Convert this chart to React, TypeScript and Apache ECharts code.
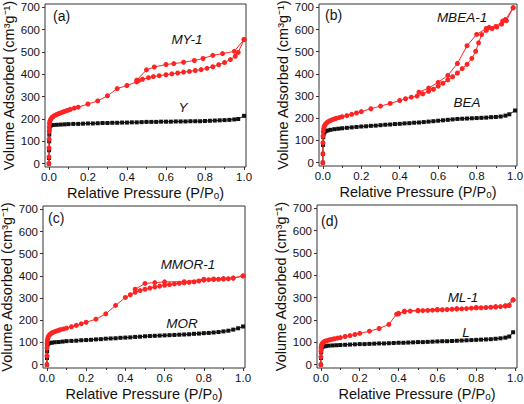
import React, { useEffect, useRef } from "react";
import * as echarts from "echarts";

type Pt = [number, number];

// ---------- Data ----------
const xTicks = [0, 0.2, 0.4, 0.6, 0.8, 1.0];
const xMinorTicks = [0.1, 0.3, 0.5, 0.7, 0.9];
const yTicks = [0, 100, 200, 300, 400, 500, 600, 700];

// (a) Y and MY-1
const Y_ads: Pt[] = [
  [0, 0], [0.0005, 25], [0.001, 60], [0.0015, 100], [0.002, 130], [0.003, 155], [0.005, 168], [0.01, 171],
  [0.02, 173], [0.04, 174], [0.06, 175], [0.08, 176], [0.1, 177], [0.125, 178], [0.15, 178], [0.175, 179],
  [0.2, 180], [0.225, 180], [0.25, 181], [0.275, 182], [0.3, 182], [0.325, 183], [0.35, 183], [0.375, 184],
  [0.4, 184], [0.425, 185], [0.45, 185], [0.475, 186], [0.5, 187], [0.525, 187], [0.55, 187], [0.575, 188],
  [0.6, 188], [0.625, 188], [0.65, 189], [0.675, 189], [0.7, 189], [0.725, 190], [0.75, 190], [0.775, 190],
  [0.8, 191], [0.825, 192], [0.85, 193], [0.875, 194], [0.9, 195], [0.925, 196], [0.95, 198], [0.97, 200], [1.0, 214],
];
const MY1_ads: Pt[] = [
  [0, 0], [0.0003, 30], [0.0006, 70], [0.001, 110], [0.0015, 145], [0.002, 165], [0.003, 180], [0.005, 190],
  [0.008, 197], [0.012, 203], [0.017, 208], [0.023, 212], [0.03, 216], [0.037, 219], [0.045, 222], [0.053, 225],
  [0.062, 228], [0.071, 231], [0.08, 234], [0.09, 237], [0.1, 240], [0.11, 243], [0.13, 249], [0.15, 253],
  [0.2, 267], [0.25, 281], [0.3, 304], [0.35, 336], [0.4, 350], [0.45, 366], [0.46, 372], [0.48, 378],
  [0.51, 385], [0.535, 390], [0.565, 394], [0.6, 398], [0.63, 402], [0.66, 406], [0.69, 410], [0.72, 413],
  [0.75, 417], [0.78, 421], [0.81, 427], [0.84, 434], [0.87, 443], [0.9, 453], [0.93, 466], [0.955, 481],
  [0.97, 498], [1.0, 556],
];
const MY1_des: Pt[] = [
  [1.0, 556], [0.95, 503], [0.89, 493], [0.84, 485], [0.79, 471], [0.745, 462], [0.69, 454], [0.64, 448],
  [0.6, 444], [0.54, 433], [0.5, 420], [0.45, 374],
];

// (b) BEA and MBEA-1
const BEA_ads: Pt[] = [
  [0, 0], [0.0005, 40], [0.001, 80], [0.002, 115], [0.004, 130], [0.008, 137], [0.015, 142], [0.025, 145],
  [0.04, 148], [0.06, 151], [0.08, 153], [0.1, 155], [0.125, 157], [0.15, 159], [0.175, 161], [0.2, 163],
  [0.225, 164], [0.25, 166], [0.275, 167], [0.3, 169], [0.325, 171], [0.35, 172], [0.375, 174], [0.4, 175],
  [0.425, 177], [0.45, 178], [0.475, 180], [0.5, 181], [0.525, 183], [0.55, 185], [0.575, 187], [0.6, 189],
  [0.625, 191], [0.65, 193], [0.675, 195], [0.7, 197], [0.725, 198], [0.75, 199], [0.775, 200], [0.8, 201],
  [0.825, 202], [0.85, 203], [0.875, 205], [0.9, 206], [0.925, 208], [0.95, 212], [0.97, 218], [1.0, 235],
];
const MBEA1_ads: Pt[] = [
  [0, 0], [0.0003, 40], [0.0006, 90], [0.001, 120], [0.002, 140], [0.004, 153], [0.007, 163], [0.011, 170],
  [0.016, 176], [0.022, 181], [0.03, 186], [0.04, 190], [0.05, 194], [0.06, 197], [0.07, 200], [0.085, 203],
  [0.1, 207], [0.125, 212], [0.15, 218], [0.175, 224], [0.2, 230], [0.25, 243], [0.3, 255], [0.35, 267],
  [0.4, 280], [0.43, 288], [0.46, 295], [0.49, 300], [0.52, 310], [0.55, 322], [0.575, 331], [0.6, 345],
  [0.625, 358], [0.65, 373], [0.675, 387], [0.7, 404], [0.725, 424], [0.75, 443], [0.775, 470], [0.795, 502],
  [0.81, 540], [0.826, 577], [0.85, 596], [0.88, 604], [0.905, 611], [0.93, 624], [0.955, 640], [0.99, 698],
];
const MBEA1_des: Pt[] = [
  [0.99, 698], [0.95, 645], [0.935, 638], [0.9, 614], [0.865, 610], [0.85, 605], [0.8, 578], [0.75, 527],
  [0.7, 447], [0.65, 393], [0.6, 362], [0.55, 336], [0.5, 318],
];

// (c) MOR and MMOR-1
const MOR_ads: Pt[] = [
  [0, 0], [0.0005, 30], [0.001, 60], [0.002, 85], [0.004, 93], [0.008, 96], [0.015, 98], [0.025, 99],
  [0.04, 101], [0.06, 102], [0.08, 104], [0.1, 106], [0.125, 107], [0.15, 108], [0.175, 110], [0.2, 111],
  [0.225, 112], [0.25, 114], [0.275, 115], [0.3, 117], [0.325, 118], [0.35, 119], [0.375, 121], [0.4, 122],
  [0.425, 123], [0.45, 125], [0.475, 126], [0.5, 128], [0.525, 129], [0.55, 130], [0.575, 131], [0.6, 132],
  [0.625, 133], [0.65, 134], [0.675, 135], [0.7, 136], [0.725, 137], [0.75, 139], [0.775, 140], [0.8, 142],
  [0.825, 143], [0.85, 145], [0.875, 147], [0.9, 150], [0.925, 153], [0.95, 158], [0.975, 164], [1.0, 172],
];
const MMOR1_ads: Pt[] = [
  [0, 0], [0.0003, 40], [0.0006, 75], [0.001, 95], [0.002, 108], [0.004, 118], [0.007, 126], [0.011, 132],
  [0.016, 137], [0.022, 141], [0.03, 145], [0.04, 149], [0.05, 152], [0.06, 155], [0.07, 158], [0.085, 161],
  [0.1, 165], [0.125, 171], [0.15, 177], [0.175, 184], [0.2, 191], [0.25, 205], [0.3, 229], [0.35, 267],
  [0.4, 303], [0.425, 315], [0.45, 326], [0.475, 334], [0.5, 340], [0.525, 345], [0.55, 350], [0.575, 354],
  [0.6, 358], [0.625, 361], [0.65, 364], [0.675, 367], [0.7, 369], [0.725, 371], [0.75, 373], [0.775, 377],
  [0.8, 381], [0.825, 383], [0.85, 384], [0.875, 385], [0.9, 386], [0.925, 387], [0.95, 390], [1.0, 400],
];
const MMOR1_des: Pt[] = [
  [1.0, 400], [0.95, 390], [0.9, 388], [0.85, 386], [0.8, 385], [0.7, 374], [0.6, 373], [0.55, 370],
  [0.5, 366], [0.45, 340],
];

// (d) L and ML-1
const L_ads: Pt[] = [
  [0, 0], [0.0005, 30], [0.001, 55], [0.002, 70], [0.004, 77], [0.008, 80], [0.015, 82], [0.025, 83],
  [0.04, 85], [0.06, 86], [0.08, 87], [0.1, 88], [0.125, 89], [0.15, 90], [0.175, 91], [0.2, 92],
  [0.225, 92], [0.25, 93], [0.275, 94], [0.3, 95], [0.325, 95], [0.35, 96], [0.375, 97], [0.4, 98],
  [0.425, 98], [0.45, 99], [0.475, 100], [0.5, 101], [0.525, 101], [0.55, 102], [0.575, 103], [0.6, 104],
  [0.625, 105], [0.65, 105], [0.675, 106], [0.7, 107], [0.725, 108], [0.75, 109], [0.775, 110], [0.8, 111],
  [0.825, 112], [0.85, 113], [0.875, 114], [0.9, 116], [0.925, 118], [0.95, 121], [0.97, 126], [0.99, 145],
];
const ML1_ads: Pt[] = [
  [0, 0], [0.0003, 35], [0.0006, 60], [0.001, 75], [0.002, 84], [0.004, 90], [0.007, 95], [0.011, 99],
  [0.016, 102], [0.022, 105], [0.03, 107], [0.04, 110], [0.05, 112], [0.06, 114], [0.07, 116], [0.085, 119],
  [0.1, 121], [0.125, 126], [0.15, 130], [0.175, 135], [0.2, 140], [0.25, 150], [0.3, 162], [0.35, 180],
  [0.39, 226], [0.4, 228], [0.43, 237], [0.46, 240], [0.5, 241], [0.525, 242], [0.55, 243], [0.575, 244],
  [0.6, 245], [0.625, 246], [0.65, 247], [0.675, 248], [0.7, 249], [0.725, 250], [0.75, 251], [0.775, 253],
  [0.8, 254], [0.825, 255], [0.85, 256], [0.875, 257], [0.9, 258], [0.925, 260], [0.95, 262], [0.97, 265],
  [0.99, 290],
];
const ML1_des: Pt[] = [
  [0.99, 290], [0.95, 264], [0.9, 260], [0.8, 256], [0.7, 251], [0.6, 247], [0.5, 243], [0.43, 240], [0.4, 230],
];

const panelLetters = ["(a)", "(b)", "(c)", "(d)"];
const redNames = ["MY-1", "MBEA-1", "MMOR-1", "ML-1"];
const blackNames = ["Y", "BEA", "MOR", "L"];
const blackData = [Y_ads, BEA_ads, MOR_ads, L_ads];
const redAdsData = [MY1_ads, MBEA1_ads, MMOR1_ads, ML1_ads];
const redDesData = [MY1_des, MBEA1_des, MMOR1_des, ML1_des];

// ---------- Layout / style ----------
const FONT = "'Liberation Sans', Arial, Helvetica, sans-serif";
const RED = "#ff2424";
const BLACK = "#111111";
const AXIS = "#333333";

const grids = [
  { left: 45, top: 4, width: 201, height: 163 },
  { left: 319, top: 4, width: 198, height: 162 },
  { left: 43, top: 206, width: 202, height: 162 },
  { left: 317, top: 205, width: 200, height: 163 },
];
const letterPos = [
  [53, 16], [325, 15], [48, 218], [321, 221],
];
const redLabelPos = [
  [187, 39], [462, 17], [188, 264], [463, 297],
];
const blackLabelPos = [
  [183, 107], [467, 102], [182, 323], [466, 332],
];

export default function App() {
  const ref = useRef<HTMLDivElement>(null);
  useEffect(() => {
    if (!ref.current) return;
    const chart = echarts.init(ref.current, undefined, { renderer: "svg" });
    const xAxes: any[] = [];
    const yAxes: any[] = [];
    const series: any[] = [];
    const graphics: any[] = [];
    grids.forEach((g, i) => {
      xAxes.push({
        type: "value",
        gridIndex: i,
        position: "bottom",
        min: -0.02,
        max: 1.01,
        axisLine: { show: false, onZero: false },
        axisTick: { show: true, length: 3, customValues: xTicks, lineStyle: { color: AXIS } },
        axisLabel: {
          customValues: xTicks,
          formatter: (v: number) => v.toFixed(1),
          fontSize: 11.5,
          fontFamily: FONT,
          color: "#111",
          margin: 4,
        },
        splitLine: { show: false },
        name: "Relative Pressure (P/Pₒ)",
        nameLocation: "middle",
        nameGap: 18,
        nameTextStyle: { fontSize: 14.5, fontFamily: FONT, color: "#111" },
      });
      yAxes.push({
        type: "value",
        gridIndex: i,
        position: "left",
        min: -15,
        max: 715,
        axisLine: { show: false, onZero: false },
        axisTick: { show: true, length: 3, customValues: yTicks, lineStyle: { color: AXIS } },
        axisLabel: { customValues: yTicks, fontSize: 11.5, fontFamily: FONT, color: "#111", margin: 5 },
        splitLine: { show: false },
        name: "Volume Adsorbed (cm³g⁻¹)",
        nameLocation: "middle",
        nameGap: 26,
        nameTextStyle: { fontSize: 14.5, fontFamily: FONT, color: "#111" },
      });
      series.push({
        type: "line",
        xAxisIndex: i,
        yAxisIndex: i,
        data: blackData[i],
        symbol: "rect",
        symbolSize: 4,
        lineStyle: { width: 1, color: BLACK },
        itemStyle: { color: BLACK },
        z: 2,
      });
      series.push({
        type: "line",
        xAxisIndex: i,
        yAxisIndex: i,
        data: redAdsData[i],
        symbol: "circle",
        symbolSize: 5,
        lineStyle: { width: 1, color: RED },
        itemStyle: { color: RED },
        z: 3,
      });
      series.push({
        type: "line",
        xAxisIndex: i,
        yAxisIndex: i,
        data: redDesData[i],
        symbol: "circle",
        symbolSize: 5,
        lineStyle: { width: 1, color: RED },
        itemStyle: { color: RED },
        z: 3,
      });
      graphics.push({
        type: "text",
        x: letterPos[i][0],
        y: letterPos[i][1],
        style: { text: panelLetters[i], fontSize: 14, fontFamily: FONT, fill: "#111", align: "left", verticalAlign: "middle" },
      });
      graphics.push({
        type: "text",
        x: redLabelPos[i][0],
        y: redLabelPos[i][1],
        style: { text: redNames[i], fontSize: 13.5, fontStyle: "italic", fontFamily: FONT, fill: "#111", align: "center", verticalAlign: "middle" },
      });
      graphics.push({
        type: "text",
        x: blackLabelPos[i][0],
        y: blackLabelPos[i][1],
        style: { text: blackNames[i], fontSize: 13.5, fontStyle: "italic", fontFamily: FONT, fill: "#111", align: "center", verticalAlign: "middle" },
      });
    });
    // minor x ticks
    grids.forEach((_, i) => {
      xAxes.push({
        type: "value",
        gridIndex: i,
        position: "bottom",
        min: -0.02,
        max: 1.01,
        axisLine: { show: false, onZero: false },
        axisTick: { show: true, length: 2, customValues: xMinorTicks, lineStyle: { color: AXIS } },
        axisLabel: { show: false },
        splitLine: { show: false },
      });
    });
    chart.setOption({
      animation: false,
      backgroundColor: "#fff",
      textStyle: { fontFamily: FONT },
      grid: grids.map((g) => ({
        ...g,
        show: true,
        borderColor: AXIS,
        borderWidth: 1,
        backgroundColor: "transparent",
        containLabel: false,
        outerBoundsMode: "none",
      })),
      xAxis: xAxes,
      yAxis: yAxes,
      series,
      graphic: graphics,
    });
    return () => chart.dispose();
  }, []);
  return <div ref={ref} style={{ position: "absolute", left: 0, top: 0, width: 524, height: 404 }} />;
}
